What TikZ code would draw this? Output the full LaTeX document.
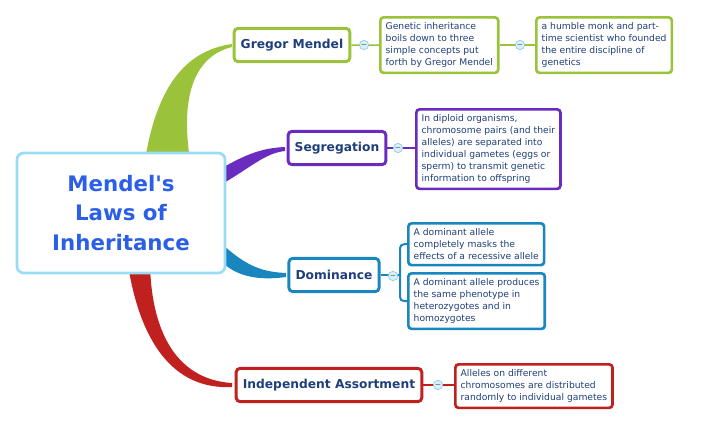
\documentclass[tikz,border=0pt]{standalone}
\usepackage{fontspec}
\setmainfont{DejaVu Sans}
\begin{document}
\definecolor{cgreen}{HTML}{9BC23B}
\definecolor{cpurple}{HTML}{6A2BBF}
\definecolor{cblue}{HTML}{1A86C0}
\definecolor{cred}{HTML}{C0201E}
\definecolor{ctext}{HTML}{1F3F7A}
\definecolor{ctitle}{HTML}{2B5FE8}
\definecolor{cedge}{HTML}{9ADCF5}
\begin{tikzpicture}[x=0.75pt,y=-0.75pt]
\tikzstyle{topic}=[draw,line width=2.2pt,rounded corners=3pt,fill=white,font=\bfseries\fontsize{9.2}{11}\selectfont,text=ctext,minimum height=25pt,inner xsep=5pt]
\tikzstyle{leaf}=[draw,line width=2pt,rounded corners=2.5pt,fill=white,font=\fontsize{6.9}{9}\selectfont,text=ctext,align=left,anchor=north west,inner sep=4pt]
\tikzstyle{knob}=[circle,draw=cedge!80!gray,fill=cedge!40,inner sep=0pt,minimum size=7pt,line width=0.5pt]
\useasboundingbox (0,0) rectangle (708,426);
% branches
\fill[cgreen] (145,160) .. controls (158,80) and (190,50) .. (232,44) -- (232,47) .. controls (195,56) and (180,95) .. (190,160) -- cycle;
\fill[cpurple] (222,168) .. controls (250,152) and (265,148) .. (285,147) -- (285,151) .. controls (265,153) and (250,168) .. (222,184) -- cycle;
\fill[cblue] (222,244) .. controls (248,268) and (265,272) .. (286,273) -- (286,277) .. controls (258,281) and (236,276) .. (222,262) -- cycle;
\fill[cred] (150,265) .. controls (152,340) and (182,380) .. (232,383) -- (232,387) .. controls (172,390) and (140,340) .. (128,265) -- cycle;
% central
\node [draw=cedge,line width=2pt,rounded corners=5pt,fill=white,minimum width=156pt,minimum height=90pt,align=center,font=\bfseries\fontsize{16}{22}\selectfont,text=ctitle] (root) at (121,213) {Mendel\textquotesingle s\\Laws of\\Inheritance};
% topics
\node [topic,draw=cgreen] (mendel) at (292,45) {Gregor Mendel};
\node [topic,draw=cpurple] (seg) at (337,148) {Segregation};
\node [topic,draw=cblue] (dom) at (334,275) {Dominance};
\node [topic,draw=cred] (ind) at (329,385) {Independent Assortment};
% leaves
\node [leaf,draw=cgreen] (g1) at (379,16) {Genetic inheritance\\boils down to three\\simple concepts put\\forth by Gregor Mendel};
\node [leaf,draw=cgreen] (g2) at (535,16) {a humble monk and part-\\time scientist who founded\\the entire discipline of\\genetics};
\node [leaf,draw=cpurple] (s1) at (415,108) {In diploid organisms,\\chromosome pairs (and their\\alleles) are separated into\\individual gametes (eggs or\\sperm) to transmit genetic\\information to offspring};
\node [leaf,draw=cblue] (d1) at (407,222) {A dominant allele\\completely masks the\\effects of a recessive allele};
\node [leaf,draw=cblue] (d2) at (407,272) {A dominant allele produces\\the same phenotype in\\heterozygotes and in\\homozygotes};
\node [leaf,draw=cred] (i1) at (454,363) {Alleles on different\\chromosomes are distributed\\randomly to individual gametes};
% connectors
\draw [cgreen,line width=1.2pt] (mendel) -- (g1);
\draw [cgreen,line width=1.2pt] (g1) -- (g2);
\draw [cpurple,line width=1.2pt] (seg) -- (s1.west |- seg);
\draw [cred,line width=1.2pt] (ind) -- (i1.west |- ind);
\coordinate (br) at (400,275);
\draw [cblue,line width=1.5pt] (dom) -- (br);
\draw [cblue,line width=1.5pt,rounded corners=3pt] (d1.west) -| (br) |- (d2.west);
% knobs
\node [knob] (k1) at (364,45) {\tiny$-$};
\node [knob] (k2) at (520,45) {\tiny$-$};
\node [knob] (k3) at (398,148) {\tiny$-$};
\node [knob] (k4) at (393,276) {\tiny$-$};
\node [knob] (k5) at (438,385) {\tiny$-$};
\end{tikzpicture}
\end{document}
